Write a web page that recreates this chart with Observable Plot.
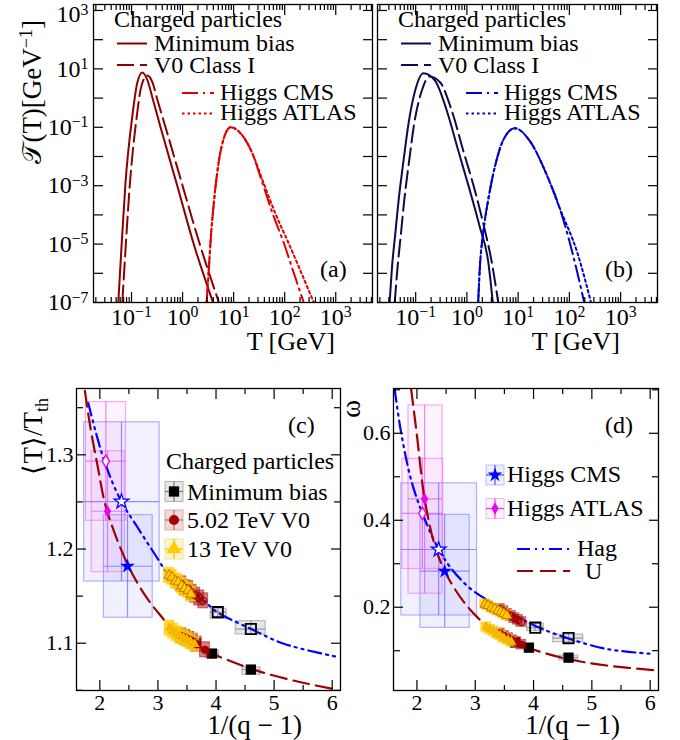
<!DOCTYPE html>
<html>
<head>
<meta charset="utf-8">
<script src="https://cdn.jsdelivr.net/npm/d3@7"></script>
<script src="https://cdn.jsdelivr.net/npm/@observablehq/plot@0.6"></script>
<style>
html,body{margin:0;padding:0;background:#fff;}
#wrap{position:relative;width:680px;height:740px;overflow:hidden;background:#fff;}
#wrap svg{position:absolute;left:0;top:0;}
</style>
</head>
<body>
<div id="wrap"></div>
<script>
// ================= DATA =================
// Panel (a): T [GeV] vs 𝒯(T) [GeV^-1]
const aMinBias    = [[0.055,1e-7],[0.063,6e-6],[0.076,1.2e-3],[0.103,0.22],[0.129,3.2],[0.162,7.5],[0.206,4.0],[0.255,1.07],[0.37,0.10],[0.787,1.0e-3],[1.64,1.05e-5],[3.95,1e-7]];
const aV0ClassI   = [[0.066,1e-7],[0.076,6e-6],[0.093,1.2e-3],[0.126,0.22],[0.157,2.7],[0.203,5.9],[0.258,3.4],[0.324,0.83],[0.464,0.10],[1.0,1.0e-3],[2.15,1.05e-5],[5.15,1e-7]];
const aHiggsCMS   = [[2.96,1e-7],[3.28,1.6e-6],[3.62,2.3e-5],[3.96,1.4e-4],[4.44,1.0e-3],[5.15,7.3e-3],[6.22,0.035],[8.73,0.10],[13.7,0.062],[23.3,0.0127],[35.4,1.5e-3],[58.2,1.1e-4],[96.9,1.05e-5],[152,9.8e-7],[236,1e-7]];
const aHiggsATLAS = [[2.96,1e-7],[3.28,1.6e-6],[3.62,2.3e-5],[3.96,1.4e-4],[4.44,1.0e-3],[5.15,7.3e-3],[6.22,0.035],[8.73,0.10],[13.7,0.062],[23.3,0.0127],[37.0,1.5e-3],[66.0,1.1e-4],[120,1.05e-5],[215,9.8e-7],[371,1e-7]];
// Panel (b)
const bMinBias    = [[0.031,1e-7],[0.0345,1.6e-6],[0.040,2.3e-5],[0.0464,3.1e-4],[0.058,7.3e-3],[0.0724,0.132],[0.0978,1.82],[0.1416,7.1],[0.239,4.0],[0.404,0.376],[0.678,0.016],[1.14,6.9e-4],[1.79,3.8e-5],[2.59,2.7e-6],[3.2,1e-7]];
const bV0ClassI   = [[0.039,1e-7],[0.0443,1.6e-6],[0.0516,2.3e-5],[0.0598,3.1e-4],[0.0748,7.3e-3],[0.0935,0.132],[0.132,1.82],[0.185,5.5],[0.299,3.5],[0.505,0.376],[0.848,0.016],[1.43,6.9e-4],[2.17,3.8e-5],[3.02,2.7e-6],[4.09,1e-7]];
const bHiggsCMS   = [[1.66,1e-7],[1.79,1.6e-6],[2.07,2.3e-5],[2.59,3.1e-4],[3.5,4.3e-3],[5.07,0.035],[8.55,0.093],[16.7,0.035],[35.3,2.6e-3],[64,1.8e-4],[116,4.7e-6],[195,1e-7]];
const bHiggsATLAS = [[1.66,1e-7],[1.79,1.6e-6],[2.07,2.3e-5],[2.59,3.1e-4],[3.5,4.3e-3],[5.07,0.035],[8.55,0.093],[16.7,0.035],[35.3,2.6e-3],[64,1.8e-4],[145,4.7e-6],[264,1e-7]];
// Tick values, panels (a)/(b)
const logXMajor = [0.1, 1, 10, 100, 1000];
const logYMajor = [1e-7,1e-6,1e-5,1e-4,1e-3,1e-2,1e-1,1,10,100,1000];
const logYLabels = [1e-7,1e-5,1e-3,1e-1,10,1000];

// Panel (c): 1/(q-1) vs <T>/T_th
const cHag = [[1.80,1.355],[2.074,1.294],[2.361,1.2515],[2.648,1.2231],[3.02,1.1874],[3.164,1.1737],[3.5,1.158],[3.79,1.145],[4.024,1.1329],[4.597,1.1153],[5.169,1.0994],[6.115,1.0851]];
const cU   = [[1.742,1.368],[1.845,1.326],[1.965,1.287],[2.074,1.252],[2.189,1.228],[2.487,1.1825],[2.762,1.1524],[3.02,1.1312],[3.278,1.1135],[3.622,1.0994],[3.93,1.089],[4.31,1.0795],[4.6,1.0728],[4.884,1.0675],[5.457,1.0586],[6.002,1.0516]];
// [v, y, vLo, vHi, yLo, yHi, open]
const cMinBiasHag = [[4.03,1.133,3.908,4.183,1.1259,1.1365],[4.60,1.115,4.339,4.855,1.1093,1.1234]];
const cMinBiasU   = [[3.65,1.100,3.60,3.70,1.097,1.103],[3.93,1.089,3.823,4.052,1.0844,1.0922],[4.60,1.072,4.454,4.768,1.0665,1.0743]];
const cHiggsCMS   = [[2.373,1.2504,1.73,3.03,1.1655,1.3346,1],[2.476,1.1817,2.07,2.91,1.127,1.236,0]];
const cHiggsATLAS = [[2.103,1.2932,1.76,2.45,1.230,1.356,1],[2.132,1.2401,1.86,2.43,1.1754,1.3038,0]];
const c13TeVHag  = [[3.19,1.172],[3.24,1.170],[3.30,1.166],[3.35,1.165],[3.41,1.161],[3.46,1.158],[3.52,1.156],[3.57,1.152]];
const c502TeVHag = [[3.40,1.163],[3.46,1.159],[3.52,1.158],[3.58,1.154],[3.64,1.151],[3.71,1.148],[3.78,1.145]];
const c13TeVU    = [[3.20,1.116],[3.26,1.113],[3.32,1.110],[3.38,1.108],[3.44,1.106],[3.50,1.104],[3.56,1.102],[3.63,1.099]];
const c502TeVU   = [[3.40,1.108],[3.47,1.106],[3.54,1.104],[3.60,1.102],[3.67,1.099],[3.81,1.093]];

// Panel (d): 1/(q-1) vs ω
const dHag = [[1.617,0.702],[1.732,0.599],[1.904,0.491],[2.093,0.416],[2.373,0.333],[2.619,0.284],[2.962,0.238],[3.536,0.192],[4.03,0.157],[4.6,0.128],[5.254,0.104],[6.0,0.093]];
const dU   = [[1.90,0.702],[2.0,0.595],[2.132,0.449],[2.30,0.345],[2.476,0.283],[2.75,0.222],[3.02,0.179],[3.364,0.139],[3.88,0.108],[4.567,0.0814],[5.254,0.066],[6.14,0.0545]];
const dMinBiasHag = [[4.03,0.153,3.89,4.177,0.1448,0.1618],[4.60,0.129,4.337,4.852,0.1195,0.1372]];
const dMinBiasU   = [[3.68,0.119,3.63,3.73,0.115,0.123],[3.92,0.107,3.84,4.00,0.103,0.111],[4.60,0.084,4.44,4.766,0.0775,0.0889]];
const dHiggsCMS   = [[2.373,0.3327,1.732,3.03,0.181,0.485,1],[2.476,0.2828,2.06,2.905,0.1526,0.4124,0]];
const dHiggsATLAS = [[2.093,0.416,1.75,2.45,0.288,0.541,1],[2.132,0.449,1.855,2.44,0.231,0.664,0]];
const d13TeVHag  = [[3.17,0.207],[3.22,0.204],[3.28,0.199],[3.33,0.196],[3.39,0.192],[3.44,0.189],[3.49,0.185],[3.54,0.181]];
const d502TeVHag = [[3.42,0.196],[3.48,0.191],[3.54,0.185],[3.61,0.180],[3.67,0.175],[3.73,0.171],[3.79,0.166]];
const d13TeVU    = [[3.19,0.154],[3.25,0.149],[3.31,0.145],[3.37,0.139],[3.43,0.135],[3.49,0.129],[3.56,0.125],[3.62,0.120]];
const d502TeVU   = [[3.42,0.140],[3.49,0.134],[3.56,0.129],[3.63,0.124],[3.70,0.120],[3.79,0.114]];

// Tick values, panels (c)/(d)
const linXMajor = [2,3,4,5,6], linXMinor = [2.5,3.5,4.5,5.5];
const cYMajor = [1.1,1.2,1.3], cYMinor = [1.05,1.15,1.25,1.35];
const dYMajor = [0.2,0.4,0.6], dYMinor = [0.1,0.3,0.5,0.7];

// ================= STYLE =================
const W = 680, H = 740;
const FONT = "'Liberation Serif','Times New Roman',serif";
const DARKRED = "#8b0000", RED = "#e00000", NAVY = "#0c0c4c", BLUE_B = "#0000c8";
const BLUE = "#0000ff", URED = "#a00000", MAG = "#ee00ee", YEL = "#ffcc00", CRED = "#a50000";

const pts = a => a.map(([t, v]) => ({t, v}));
const errs = a => a.map(([v, y, vLo, vHi, yLo, yHi, open]) => ({v, y, vLo, vHi, yLo, yHi, open}));
const sup = e => (e < 0 ? "\u2212" + (-e) : String(e));
const logFmt = v => "10^" + sup(Math.round(Math.log10(v)));
const blank = () => "";

function minorLog(domain) {
  const out = [];
  for (let e = -3; e <= 4; e++) for (let k = 2; k <= 9; k++) {
    const v = k * Math.pow(10, e);
    if (v >= domain[0] && v <= domain[1]) out.push(v);
  }
  return out;
}

function plotPanel(frame, x, y, marks) {
  const [L, T, R, B] = frame;
  return Plot.plot({
    width: W, height: H,
    marginLeft: L, marginTop: T, marginRight: W - R, marginBottom: H - B,
    x, y,
    style: {fontFamily: FONT, fontSize: "22px", background: "none", overflow: "visible", color: "black"},
    marks: marks.flat().filter(Boolean)
  });
}

function tickAxes(xMaj, xMin, yMaj, yMin, yMinLen) {
  const o = {tickFormat: blank, label: null, strokeWidth: 1.2};
  return [
    Plot.axisX(xMaj, {...o, anchor: "bottom", tickSize: -10}),
    Plot.axisX(xMin, {...o, anchor: "bottom", tickSize: -5}),
    Plot.axisX(xMaj, {...o, anchor: "top", tickSize: -10}),
    Plot.axisX(xMin, {...o, anchor: "top", tickSize: -5}),
    Plot.axisY(yMaj, {...o, anchor: "left", tickSize: -10}),
    Plot.axisY(yMaj, {...o, anchor: "right", tickSize: -10}),
    yMin ? Plot.axisY(yMin, {...o, anchor: "left", tickSize: -yMinLen}) : null,
    yMin ? Plot.axisY(yMin, {...o, anchor: "right", tickSize: -yMinLen}) : null
  ];
}

// turn "10^e" tick strings into 10 with a raised exponent
function superscripts(svg) {
  d3.select(svg).selectAll("text").each(function () {
    const m = /^10\^(.+)$/.exec(this.textContent);
    if (m) {
      const s = d3.select(this);
      const isY = this.closest("g") && /y-axis/.test(this.closest("g").getAttribute("aria-label") || "");
      const shift = isY && m[1] === "3" ? 4 : 0;   // keep the top label inside the page
      s.text("");
      s.append("tspan").attr("dy", shift).text("10");
      s.append("tspan").attr("dy", "-0.48em").attr("font-size", "0.66em").text(m[1]);
    }
  });
}

function text(svg, x, y, str, {size = 24, anchor = "start", rotate = false} = {}) {
  const t = d3.select(svg).append("text")
    .attr("font-family", FONT).attr("font-size", size)
    .attr("text-anchor", anchor).attr("fill", "black");
  if (rotate) t.attr("transform", `translate(${x},${y}) rotate(-90)`);
  else t.attr("x", x).attr("y", y);
  if (str != null) t.text(str);
  return t;
}
function lineSample(svg, x1, x2, y, stroke, dash, width = 2) {
  d3.select(svg).append("line").attr("x1", x1).attr("x2", x2).attr("y1", y).attr("y2", y)
    .attr("stroke", stroke).attr("stroke-width", width).attr("stroke-dasharray", dash || null);
}
function glyph(svg, cx, cy, o) {
  const g = d3.select(svg).append("g");
  g.append("rect").attr("x", cx - 9).attr("y", cy - 10).attr("width", 18).attr("height", 20)
    .attr("fill", o.boxFill).attr("fill-opacity", o.boxOpacity).attr("stroke", o.boxStroke).attr("stroke-opacity", 0.6);
  g.append("line").attr("x1", cx - 9).attr("x2", cx + 9).attr("y1", cy).attr("y2", cy).attr("stroke", o.bar).attr("stroke-width", 1.2);
  g.append("line").attr("x1", cx).attr("x2", cx).attr("y1", cy - 10).attr("y2", cy + 10).attr("stroke", o.bar).attr("stroke-width", 1.2);
  g.append("path").attr("d", d3.symbol(o.symbol, Math.PI * o.r * o.r)())
    .attr("transform", `translate(${cx},${cy})`).attr("fill", o.fill).attr("stroke", o.stroke || "none").attr("stroke-width", 1.2);
}

const wrap = document.getElementById("wrap");

// ================= PANELS (a) & (b) =================
const logXDomain = [Math.pow(10, -1.745), Math.pow(10, 3.72)];
const logYDomain = [1e-7, Math.pow(10, 3.205)];
const logXMinor = minorLog(logXDomain);

function logPanel(frame, curves, colors, withYLabels, tag) {
  const [cMain, cHiggs] = colors;
  const ln = (data, stroke, dash) => Plot.line(pts(data), {x: "t", y: "v", stroke, strokeWidth: 2, strokeDasharray: dash, curve: "monotone-x", clip: true});
  const svg = plotPanel(frame,
    {type: "log", domain: logXDomain},
    {type: "log", domain: logYDomain},
    [
      ln(curves[0], cMain, null),
      ln(curves[1], cMain, "17,6"),
      ln(curves[2], cHiggs, "16,5,2,5"),
      ln(curves[3], cHiggs, "2.5,3"),
      tickAxes(logXMajor, logXMinor, logYMajor, null, 0),
      Plot.axisX(logXMajor, {anchor: "bottom", tickSize: 0, tickPadding: 5, tickFormat: logFmt, label: null, fontSize: 24}),
      withYLabels ? Plot.axisY(logYLabels, {anchor: "left", tickSize: 0, tickPadding: 5, tickFormat: logFmt, label: null, fontSize: 24}) : null,
      Plot.frame({stroke: "black", strokeWidth: 1.3})
    ]);
  superscripts(svg);
  const L = frame[0];
  text(svg, L + 21, 27, "Charged particles");
  lineSample(svg, L + 24, L + 54, 43.5, cMain, null);
  text(svg, L + 61, 51, "Minimum bias");
  lineSample(svg, L + 24, L + 54, 65, cMain, "17,6");
  text(svg, L + 61, 72.5, "V0 Class I");
  lineSample(svg, L + 89, L + 121, 93, cHiggs, "16,5,2,5");
  text(svg, L + 127, 99.5, "Higgs CMS");
  lineSample(svg, L + 89, L + 121, 113.5, cHiggs, "2.5,3");
  text(svg, L + 127, 120, "Higgs ATLAS");
  text(svg, frame[2] - 52, 277, tag);
  text(svg, frame[2] - 37, 350, "T [GeV]", {size: 26, anchor: "end"});
  return svg;
}

const svgA = logPanel([93, 4, 372, 302], [aMinBias, aV0ClassI, aHiggsCMS, aHiggsATLAS], [DARKRED, RED], true, "(a)");
{
  const t = text(svgA, 41, 20, null, {size: 27, anchor: "end", rotate: true});
  t.append("tspan").text("\u{1D4AF}(T)[GeV");
  t.append("tspan").attr("dy", -9).attr("font-size", 18).text("\u22121");
  t.append("tspan").attr("dy", 9).text("]");
}
const svgB = logPanel([377, 4, 657, 302], [bMinBias, bV0ClassI, bHiggsCMS, bHiggsATLAS], [NAVY, BLUE_B], false, "(b)");

// ================= PANELS (c) & (d) =================
function qPanel(frame, yDomain, yMaj, yMin, yFmt, d) {
  const cl = (arr) => arr.map(([v, y]) => ({v, y}));
  const hBox = (data, fill, stroke, op) => Plot.rect(data, {x1: "vLo", x2: "vHi", y1: "yLo", y2: "yHi", fill, fillOpacity: op, stroke, strokeOpacity: 0.55, strokeWidth: 1.2});
  const hBars = (data, stroke, op) => [
    Plot.ruleY(data, {y: "y", x1: "vLo", x2: "vHi", stroke, strokeOpacity: op, strokeWidth: 1.2}),
    Plot.ruleX(data, {x: "v", y1: "yLo", y2: "yHi", stroke, strokeOpacity: op, strokeWidth: 1.2})
  ];
  const clBox = (data, fill, op, dv, dy) => Plot.rect(data, {x1: p => p.v - dv, x2: p => p.v + dv, y1: p => p.y - dy, y2: p => p.y + dy, fill, fillOpacity: op, stroke: fill, strokeOpacity: 0.5, strokeWidth: 1});
  const cms = errs(d.cms), atlas = errs(d.atlas), mbH = errs(d.mbHag), mbU = errs(d.mbU);
  const dyc = d.clusterDy;
  return plotPanel(frame,
    {domain: [1.598, 6.143]},
    {domain: yDomain},
    [
      hBox(cms, "#5555ff", "#7777ff", 0.09),
      hBox(atlas, "#ff55ff", "#ee66ee", 0.07),
      hBars(cms, "#5050ff", 0.6),
      hBars(atlas, "#e040e0", 0.6),
      hBox(mbH, "#bbbbbb", "#888888", 0.35),
      hBox(mbU, "#bbbbbb", "#888888", 0.35),
      hBars(mbH, "#777777", 0.7),
      hBars(mbU, "#777777", 0.7),
      Plot.line(cl(d.hag), {x: "v", y: "y", stroke: BLUE, strokeWidth: 2.2, strokeDasharray: "13,5,2,5,2,5", curve: "catmull-rom", clip: true}),
      Plot.line(cl(d.u), {x: "v", y: "y", stroke: URED, strokeWidth: 2.2, strokeDasharray: "16,7", curve: "catmull-rom", clip: true}),
      Plot.dot(mbU, {x: "v", y: "y", r: 5.8, symbol: "square", fill: "black"}),
      clBox(cl(d.r502Hag), CRED, 0.5, 0.085, dyc),
      clBox(cl(d.r502U), CRED, 0.5, 0.085, dyc),
      clBox(cl(d.y13Hag), YEL, 0.75, 0.085, dyc),
      clBox(cl(d.y13U), YEL, 0.75, 0.085, dyc),
      Plot.dot(cl(d.r502Hag), {x: "v", y: "y", r: 3.5, symbol: "circle", stroke: CRED, strokeWidth: 1.3, fill: "none"}),
      Plot.dot(cl(d.r502U), {x: "v", y: "y", r: 4, symbol: "circle", fill: CRED}),
      Plot.dot(cl(d.y13Hag), {x: "v", y: "y", r: 3.8, symbol: "triangle", stroke: "#c87800", strokeWidth: 1, fill: YEL}),
      Plot.dot(cl(d.y13U), {x: "v", y: "y", r: 3.8, symbol: "triangle", fill: "#f5b800"}),
      Plot.dot(mbH, {x: "v", y: "y", r: 5.8, symbol: "square", stroke: "black", strokeWidth: 1.8, fill: "none"}),
      Plot.dot(cms.filter(p => p.open), {x: "v", y: "y", r: 4.6, symbol: "star", stroke: BLUE, strokeWidth: 1.3, fill: "white"}),
      Plot.dot(cms.filter(p => !p.open), {x: "v", y: "y", r: 4.6, symbol: "star", fill: BLUE}),
      Plot.dot(atlas.filter(p => p.open), {x: "v", y: "y", r: 3.8, symbol: "diamond", stroke: MAG, strokeWidth: 1.4, fill: "white"}),
      Plot.dot(atlas.filter(p => !p.open), {x: "v", y: "y", r: 3.8, symbol: "diamond", fill: MAG}),
      tickAxes(linXMajor, linXMinor, yMaj, yMin, 7),
      Plot.axisX(linXMajor, {anchor: "bottom", tickSize: 0, tickPadding: 4, tickFormat: v => String(v), label: null, fontSize: 22}),
      Plot.axisY(yMaj, {anchor: "left", tickSize: 0, tickPadding: 3, tickFormat: yFmt, label: null, fontSize: 22}),
      Plot.frame({stroke: "black", strokeWidth: 1.3})
    ]);
}

const svgC = qPanel([76, 388, 340, 690], [1.0498, 1.3704], cYMajor, cYMinor, v => v.toFixed(1), {
  hag: cHag, u: cU, cms: cHiggsCMS, atlas: cHiggsATLAS, mbHag: cMinBiasHag, mbU: cMinBiasU,
  y13Hag: c13TeVHag, r502Hag: c502TeVHag, y13U: c13TeVU, r502U: c502TeVU, clusterDy: 0.008
});
const svgD = qPanel([393, 388, 658, 690], [0.0085, 0.703], dYMajor, dYMinor, v => v.toFixed(1), {
  hag: dHag, u: dU, cms: dHiggsCMS, atlas: dHiggsATLAS, mbHag: dMinBiasHag, mbU: dMinBiasU,
  y13Hag: d13TeVHag, r502Hag: d502TeVHag, y13U: d13TeVU, r502U: d502TeVU, clusterDy: 0.011
});

// panel (c) texts & legend
text(svgC, 288, 433, "(c)");
text(svgC, 302, 734, "1/(q \u2212 1)", {size: 27, anchor: "end"});
{
  const t = text(svgC, 42, 398, null, {size: 27, anchor: "end", rotate: true});
  t.append("tspan").text("\u27E8T\u27E9/T");
  t.append("tspan").attr("dy", 6).attr("font-size", 18).text("th");
}
text(svgC, 166, 469, "Charged particles");
glyph(svgC, 174, 491.5, {boxFill: "#bbbbbb", boxOpacity: 0.35, boxStroke: "#888", bar: "#777", symbol: d3.symbolSquare, r: 5.8, fill: "black"});
text(svgC, 187, 499.5, "Minimum bias");
glyph(svgC, 174, 520, {boxFill: CRED, boxOpacity: 0.15, boxStroke: "#d08080", bar: "#c06060", symbol: d3.symbolCircle, r: 5, fill: CRED});
text(svgC, 187, 528, "5.02 TeV V0");
glyph(svgC, 174, 549, {boxFill: YEL, boxOpacity: 0.2, boxStroke: "#f0d060", bar: "#f0c000", symbol: d3.symbolTriangle, r: 5.5, fill: YEL});
text(svgC, 187, 557, "13 TeV V0");

// panel (d) texts & legend
text(svgD, 605, 433, "(d)");
text(svgD, 620, 734, "1/(q \u2212 1)", {size: 27, anchor: "end"});
text(svgD, 360, 400, "\u03C9", {size: 27, anchor: "end", rotate: true});
glyph(svgD, 495, 475, {boxFill: "#5555ff", boxOpacity: 0.1, boxStroke: "#9999ff", bar: "#5050ff", symbol: d3.symbolStar, r: 4.6, fill: BLUE});
text(svgD, 507, 482, "Higgs CMS");
glyph(svgD, 495, 508.5, {boxFill: "#ff55ff", boxOpacity: 0.08, boxStroke: "#ee88ee", bar: "#e040e0", symbol: d3.symbolDiamond, r: 3.8, fill: MAG});
text(svgD, 507, 516, "Higgs ATLAS");
lineSample(svgD, 517, 570, 549, BLUE, "13,5,2,5,2,5", 2.2);
text(svgD, 577, 556, "Hag");
lineSample(svgD, 517, 570, 571, URED, "16,7", 2.2);
text(svgD, 585, 579, "U");

[svgA, svgB, svgC, svgD].forEach(s => wrap.appendChild(s));
</script>
</body>
</html>
